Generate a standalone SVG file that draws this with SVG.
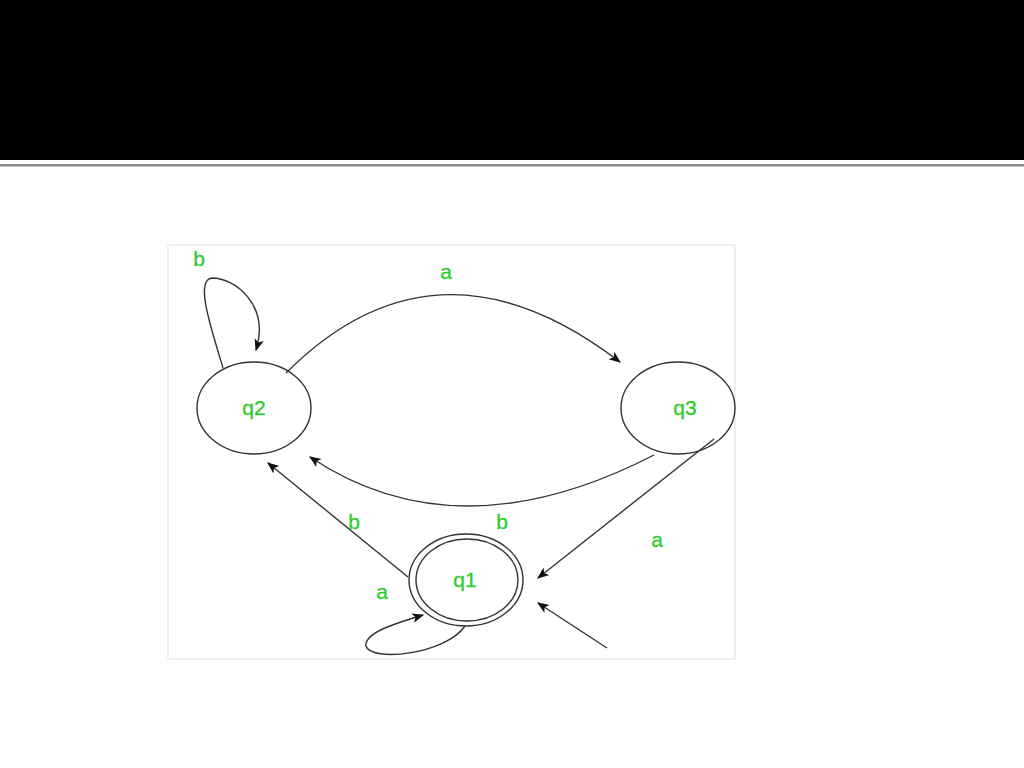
<svg xmlns="http://www.w3.org/2000/svg" width="1024" height="768" viewBox="0 0 1024 768">
<style>
.st{fill:none;stroke:#333;stroke-width:1.4}
.lb{font-family:"Liberation Sans",Arial,sans-serif;font-size:21px;fill:#2ecc2e;text-anchor:middle;stroke:#2ecc2e;stroke-width:0.3}
.ed{fill:none;stroke:#333;stroke-width:1.4}
</style>
<defs>
<marker id="ah" viewBox="0 0 10 10" refX="9" refY="5" markerWidth="12" markerHeight="12" markerUnits="userSpaceOnUse" orient="auto">
<path d="M0,1 L10,5 L0,9 L2.5,5 Z" fill="#111"/>
</marker>
</defs>
<rect x="0" y="0" width="1024" height="768" fill="#fff"/>
<rect x="0" y="0" width="1024" height="160" fill="#000"/>
<rect x="0" y="164" width="1024" height="2.5" fill="#8a8a8a"/>
<rect x="168" y="245" width="567" height="414" fill="#fff" stroke="#ececec" stroke-width="1.5"/>
<g id="connectors">
<path class="ed" d="M223,368 C210,325 195,280 212,278 C235,278 270,305 256,350" marker-end="url(#ah)"/>
<path class="ed" d="M286,373 Q437,222 620,362" marker-end="url(#ah)"/>
<path class="ed" d="M654,455 Q458,556 310,457" marker-end="url(#ah)"/>
<path class="ed" d="M408,577 L268,463" marker-end="url(#ah)"/>
<path class="ed" d="M714,439 L538,578" marker-end="url(#ah)"/>
<path class="ed" d="M607,648 L538,603" marker-end="url(#ah)"/>
<path class="ed" d="M465,626 C445,655 370,662 366,646 C364,632 400,622 423,615" marker-end="url(#ah)"/>
</g>
<g id="q2">
<ellipse class="st" cx="254" cy="408" rx="57" ry="46"/>
<text class="lb" x="254" y="415">q2</text>
</g>
<g id="q3">
<ellipse class="st" cx="678" cy="408" rx="57" ry="46"/>
<text class="lb" x="685" y="415">q3</text>
</g>
<g id="q1">
<ellipse class="st" cx="466" cy="580" rx="57" ry="46"/>
<ellipse class="st" cx="467" cy="580" rx="51" ry="41"/>
<text class="lb" x="465" y="587">q1</text>
</g>
<g id="labels">
<text class="lb" x="199" y="266">b</text>
<text class="lb" x="446" y="279">a</text>
<text class="lb" x="354" y="529">b</text>
<text class="lb" x="502" y="529">b</text>
<text class="lb" x="657" y="547">a</text>
<text class="lb" x="382" y="599">a</text>
</g>
</svg>
